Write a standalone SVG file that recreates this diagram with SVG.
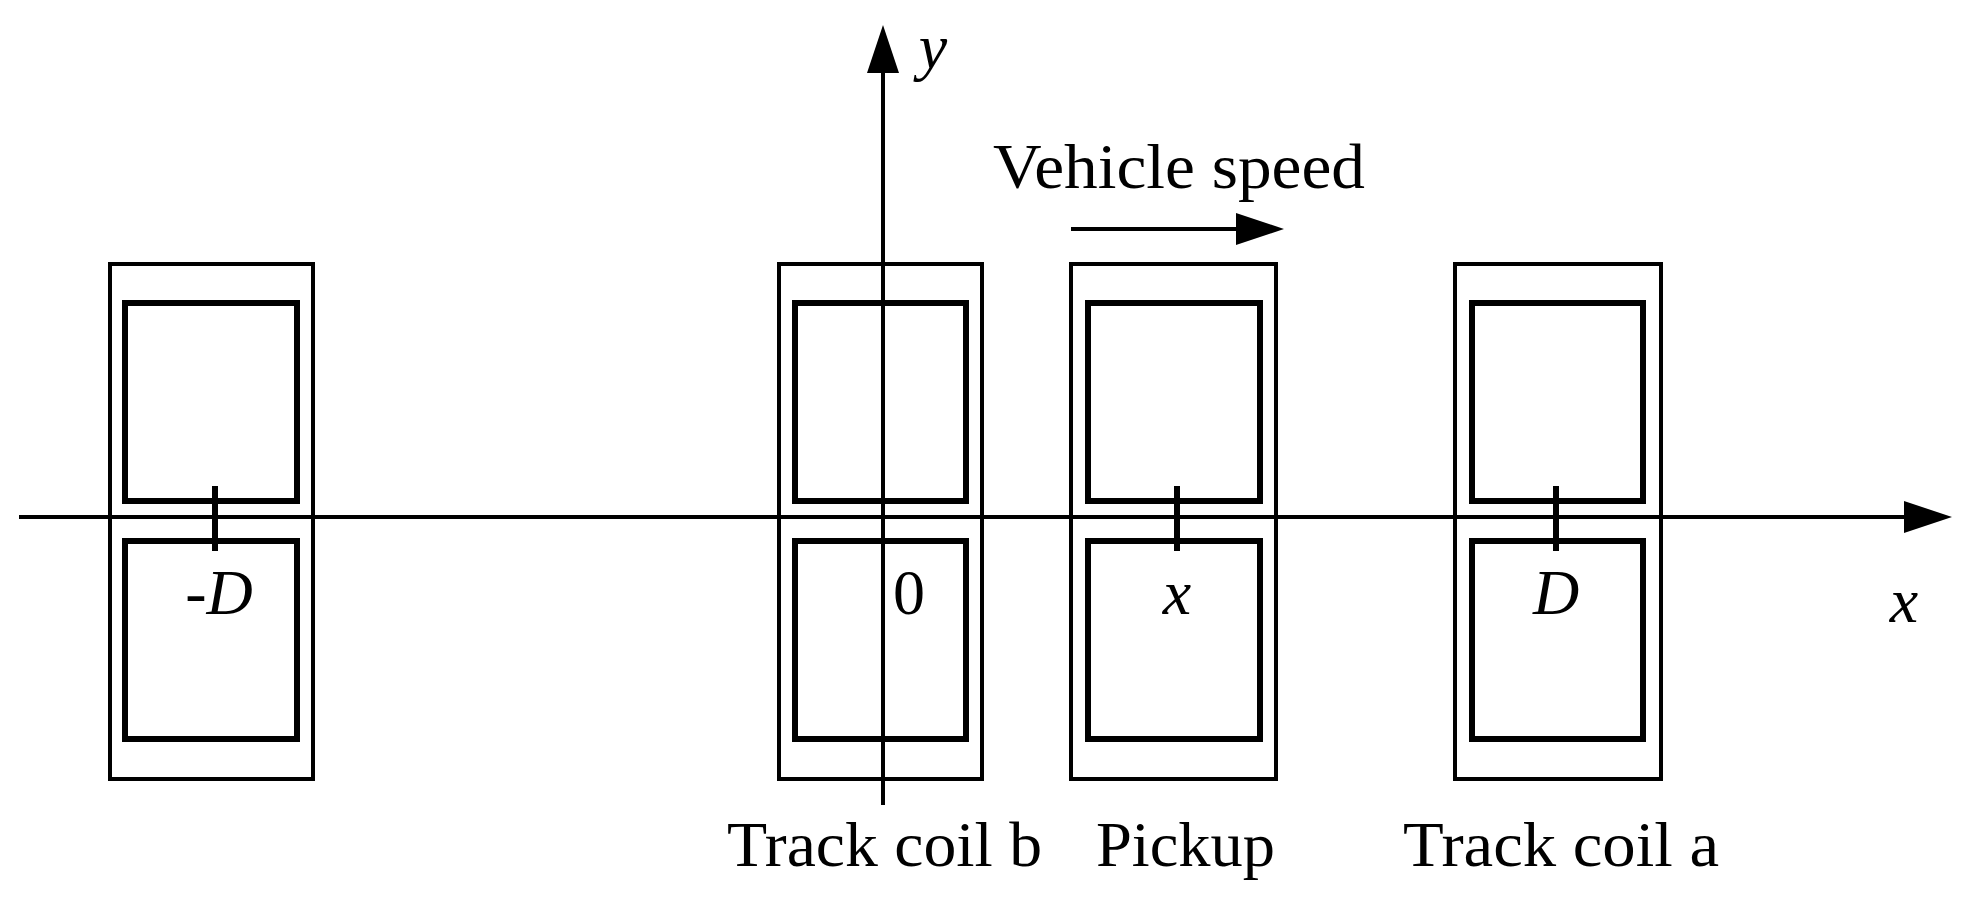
<svg xmlns="http://www.w3.org/2000/svg" width="1964" height="909" viewBox="0 0 1964 909">
<style>
.o{fill:none;stroke:#000;stroke-width:4}
.i{fill:none;stroke:#000;stroke-width:6}
.ax{stroke:#000;stroke-width:4;fill:none}
text{font-family:"Liberation Serif",serif;font-size:64px;fill:#000}
.it{font-style:italic}
</style>
<defs>
<marker id="ah" markerWidth="12" markerHeight="8" refX="10" refY="4" orient="auto" markerUnits="strokeWidth"><path d="M0,0L12,4L0,8z" fill="#000"/></marker>
</defs>
<rect width="1964" height="909" fill="#fff"/>
<g id="coil-neg"><rect class="o" x="110" y="264" width="203" height="515"/><rect class="i" x="125" y="303" width="172" height="198"/><rect class="i" x="125" y="541" width="172" height="198"/></g>
<g id="coil-b"><rect class="o" x="779" y="264" width="203" height="515"/><rect class="i" x="795" y="303" width="171" height="198"/><rect class="i" x="795" y="541" width="171" height="198"/></g>
<g id="pickup"><rect class="o" x="1071" y="264" width="205" height="515"/><rect class="i" x="1088" y="303" width="172" height="198"/><rect class="i" x="1088" y="541" width="172" height="198"/></g>
<g id="coil-a"><rect class="o" x="1455" y="264" width="206" height="515"/><rect class="i" x="1472" y="303" width="171" height="198"/><rect class="i" x="1472" y="541" width="171" height="198"/></g>
<g id="connectors">
<line class="ax" x1="19" y1="517" x2="1944" y2="517" marker-end="url(#ah)"/>
<line class="ax" x1="883" y1="805" x2="883" y2="33" marker-end="url(#ah)"/>
<line class="ax" x1="1071" y1="229" x2="1276" y2="229" marker-end="url(#ah)"/>
<line class="i" x1="215" y1="486" x2="215" y2="551"/>
<line class="i" x1="1177" y1="486" x2="1177" y2="551"/>
<line class="i" x1="1556" y1="486" x2="1556" y2="551"/>
</g>
<text class="it" x="933" y="68" text-anchor="middle">y</text>
<text class="it" x="1904" y="622" text-anchor="middle">x</text>
<text class="it" x="219" y="614" text-anchor="middle">-D</text>
<text x="909" y="614" text-anchor="middle">0</text>
<text class="it" x="1177" y="614" text-anchor="middle">x</text>
<text class="it" x="1556" y="614" text-anchor="middle">D</text>
<text x="993" y="188" textLength="372" lengthAdjust="spacingAndGlyphs">Vehicle speed</text>
<text x="727" y="866" textLength="315" lengthAdjust="spacingAndGlyphs">Track coil b</text>
<text x="1096" y="866" textLength="179" lengthAdjust="spacingAndGlyphs">Pickup</text>
<text x="1403" y="866" textLength="316" lengthAdjust="spacingAndGlyphs">Track coil a</text>
</svg>
